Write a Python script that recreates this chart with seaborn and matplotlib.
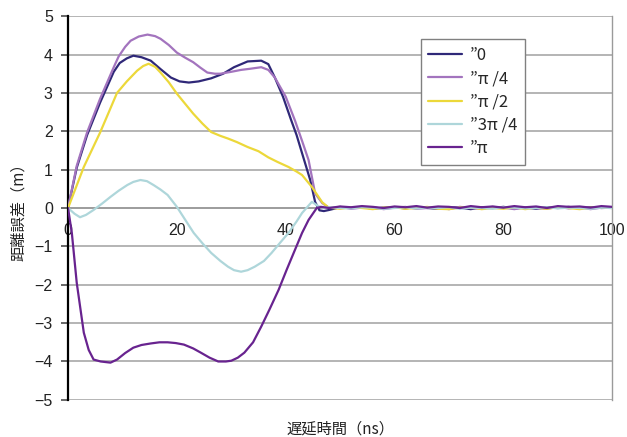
import matplotlib
matplotlib.use("Agg")
import matplotlib.pyplot as plt
import seaborn as sns
import pandas as pd

sns.set_theme(style="white")
plt.rcParams["font.family"] = ["Liberation Sans", "Noto Sans CJK JP", "DejaVu Sans"]
CJK = ["Noto Sans CJK JP", "DejaVu Sans"]

LABELS = ["\u201d0", "\u201d\u03c0 /4", "\u201d\u03c0 /2", "\u201d3\u03c0 /4", "\u201d\u03c0"]
COLORS = ["#2f2878", "#a374be", "#ecd83a", "#aed6da", "#68238f"]

# settling tail after the echo has passed (ns)
TAIL_NS = [48, 50, 52, 54, 56, 58, 60, 62, 64, 66, 68, 70, 72, 74, 76, 78,
           80, 82, 84, 86, 88, 90, 92, 94, 96, 98, 100]

# phase 0
NS_0 = [0, 1.6, 3.5, 5.9, 8.4, 9.5, 10.8, 12, 13.5, 15.2, 17, 18.9, 20.5,
        22.2, 24, 26.3, 28.5, 30.5, 33, 35.5, 36.8, 38, 39.5, 41, 42, 43,
        44.5, 45.4, 46.2, 47]
ERR_0 = [0, 1.05, 1.9, 2.75, 3.55, 3.78, 3.9, 3.97, 3.93, 3.84, 3.62, 3.4,
         3.3, 3.27, 3.3, 3.38, 3.5, 3.67, 3.82, 3.84, 3.75, 3.4, 2.9, 2.29,
         1.9, 1.43, 0.73, 0.16, -0.06, -0.08]
TAIL_0 = [-0.05, 0.02, 0.0, 0.03, -0.02, 0.01, 0.02, -0.01, 0.03, 0.0, -0.02,
          0.02, 0.01, -0.03, 0.02, 0.0, 0.03, -0.01, 0.01, -0.02, 0.02, 0.0,
          0.03, -0.01, 0.02, 0.0, 0.01]

# phase pi/4
NS_1 = [0, 1.6, 3.5, 5.9, 8.4, 9.3, 10.5, 11.5, 13, 14.6, 16, 17, 18.5, 20,
        21.5, 23, 24.3, 25.6, 27, 28, 30, 31.8, 33.5, 35.5, 36.8, 38, 40,
        41.7, 43, 44.2, 45.4, 46.7]
ERR_1 = [0, 1.1, 1.97, 2.85, 3.67, 3.95, 4.2, 4.36, 4.47, 4.52, 4.48, 4.41,
         4.25, 4.05, 3.92, 3.8, 3.66, 3.53, 3.5, 3.5, 3.55, 3.6, 3.63, 3.67,
         3.6, 3.4, 2.9, 2.28, 1.75, 1.25, 0.38, 0.13]
TAIL_1 = [0.0, 0.03, -0.02, 0.01, 0.02, -0.03, 0.01, 0.03, -0.02, 0.0, 0.02,
          -0.03, 0.03, 0.0, -0.02, 0.03, 0.01, -0.03, 0.02, 0.0, -0.02, 0.03,
          -0.01, 0.02, -0.03, 0.01, 0.0]

# phase pi/2
NS_2 = [0, 2.9, 5.9, 7.5, 9, 10.8, 12.7, 13.8, 14.8, 16, 17, 18.5, 20, 21.5,
        23, 24.7, 26.3, 28, 29.4, 31, 33, 35, 36.8, 38.5, 40.5, 42, 43, 44.8,
        46.7, 47.8]
ERR_2 = [0, 1.07, 1.97, 2.5, 3.0, 3.3, 3.58, 3.7, 3.76, 3.68, 3.53, 3.28,
         2.98, 2.72, 2.46, 2.2, 1.98, 1.88, 1.81, 1.72, 1.59, 1.48, 1.32, 1.2,
         1.07, 0.95, 0.86, 0.55, 0.15, 0.02]
TAIL_2 = [0.01, -0.02, 0.02, 0.0, -0.03, 0.01, 0.02, -0.02, 0.0, 0.03, -0.02,
          -0.03, 0.01, 0.02, -0.03, 0.0, -0.02, 0.02, -0.03, 0.01, -0.02,
          0.02, 0.0, -0.03, 0.01, 0.02, 0.0]

# phase 3pi/4
NS_3 = [0, 1.2, 2.2, 3.3, 4.7, 6.3, 7.8, 9.3, 10.9, 12, 13.3, 14.5, 15.7, 17,
        18.3, 20, 21.5, 23.1, 24.7, 26.3, 28, 29.4, 30.5, 31.8, 33, 34.3, 36,
        37.4, 39, 40.5, 42, 43, 44.8, 46, 47]
ERR_3 = [0, -0.15, -0.24, -0.18, -0.05, 0.12, 0.29, 0.45, 0.6, 0.68, 0.73,
         0.7, 0.6, 0.48, 0.34, 0.03, -0.3, -0.65, -0.92, -1.17, -1.38, -1.53,
         -1.62, -1.66, -1.62, -1.53, -1.38, -1.17, -0.9, -0.65, -0.35, -0.13,
         0.16, 0.05, 0.0]
TAIL_3 = [0.02, 0.0, -0.01, 0.02, 0.01, -0.02, 0.0, 0.02, -0.01, 0.01, 0.0,
          0.02, -0.02, 0.01, 0.0, -0.02, 0.02, 0.01, -0.01, 0.0, 0.02, -0.01,
          0.01, 0.0, -0.02, 0.01, 0.0]

# phase pi
NS_4 = [0, 0.7, 1.6, 2.9, 3.8, 4.7, 6, 7.8, 9, 10.5, 12, 13.5, 15.2, 16.8,
        18.3, 19.8, 21.3, 23, 24.4, 26, 27.6, 29, 30, 31.2, 32.4, 34, 35.5, 37,
        38.7, 40.2, 41.7, 43, 44.2, 45.7, 46.5]
ERR_4 = [0, -0.65, -1.95, -3.25, -3.7, -3.95, -4.0, -4.03, -3.95, -3.78,
         -3.64, -3.57, -3.53, -3.5, -3.5, -3.52, -3.56, -3.66, -3.77, -3.9,
         -4.0, -4.0, -3.98, -3.9, -3.77, -3.5, -3.09, -2.65, -2.13, -1.6,
         -1.09, -0.65, -0.31, 0.0, 0.03]
TAIL_4 = [0.0, 0.04, 0.02, 0.05, 0.03, 0.0, 0.04, 0.02, 0.05, 0.01, 0.04,
          0.03, 0.0, 0.05, 0.02, 0.04, 0.01, 0.05, 0.02, 0.04, 0.0, 0.05,
          0.03, 0.04, 0.01, 0.05, 0.03]

NS = [NS_0, NS_1, NS_2, NS_3, NS_4]
ERR = [ERR_0, ERR_1, ERR_2, ERR_3, ERR_4]
TAILS = [TAIL_0, TAIL_1, TAIL_2, TAIL_3, TAIL_4]

frames = []
for lab, xs, ys, tail in zip(LABELS, NS, ERR, TAILS):
    frames.append(pd.DataFrame({"ns": list(xs) + TAIL_NS,
                                "err": list(ys) + tail,
                                "phase": lab}))
df = pd.concat(frames, ignore_index=True)

fig = plt.figure(figsize=(6.27, 4.37), dpi=100)
ax = fig.add_axes([0.1085, 0.085, 0.868, 0.878])

ax.set_xlim(0, 100)
ax.set_ylim(-5, 5)
ax.set_yticks(range(-5, 6))
ax.set_xticks([0, 20, 40, 60, 80, 100])
ax.yaxis.grid(True, color="#a8a8a8", linewidth=1.2)
ax.set_axisbelow(True)

sns.lineplot(data=df, x="ns", y="err", hue="phase", hue_order=LABELS,
             palette=COLORS, estimator=None, sort=False, linewidth=1.6,
             ax=ax, zorder=3)

# x axis crosses at zero, like a spreadsheet chart
ax.spines["bottom"].set_position(("data", 0))
ax.spines["bottom"].set_color("#9a9a9a")
ax.spines["bottom"].set_linewidth(1.2)
ax.spines["top"].set_visible(False)
ax.spines["right"].set_color("#9a9a9a")
ax.spines["right"].set_linewidth(1.0)
ax.spines["left"].set_color("black")
ax.spines["left"].set_linewidth(1.6)
ax.spines["bottom"].set_zorder(2)

ax.tick_params(axis="x", direction="in", length=5, color="#555555",
               labelsize=11.5, pad=11, labelcolor="#222222")
ax.tick_params(axis="y", direction="out", length=5, color="#555555",
               labelsize=11.5, pad=6, labelcolor="#222222", left=True)

ax.set_xlabel("遅延時間（ns）", fontsize=11, color="#222222", family=CJK)
ax.xaxis.set_label_coords(0.5, -0.055)
ax.set_ylabel("距離誤差（m）", fontsize=11, color="#222222", family=CJK)
ax.yaxis.set_label_coords(-0.075, 0.5)

leg = ax.legend(loc="upper left", bbox_to_anchor=(0.648, 0.94),
                borderaxespad=0.0,
                frameon=True, fancybox=False, framealpha=1, edgecolor="#808080",
                prop={"family": CJK, "size": 12}, handlelength=2.0,
                labelspacing=0.38, borderpad=0.45, handletextpad=0.5)
leg.get_frame().set_linewidth(1.0)
for line in leg.get_lines():
    line.set_linewidth(1.6)
leg.set_zorder(5)

fig.savefig("out.png", dpi=100, facecolor="white")
